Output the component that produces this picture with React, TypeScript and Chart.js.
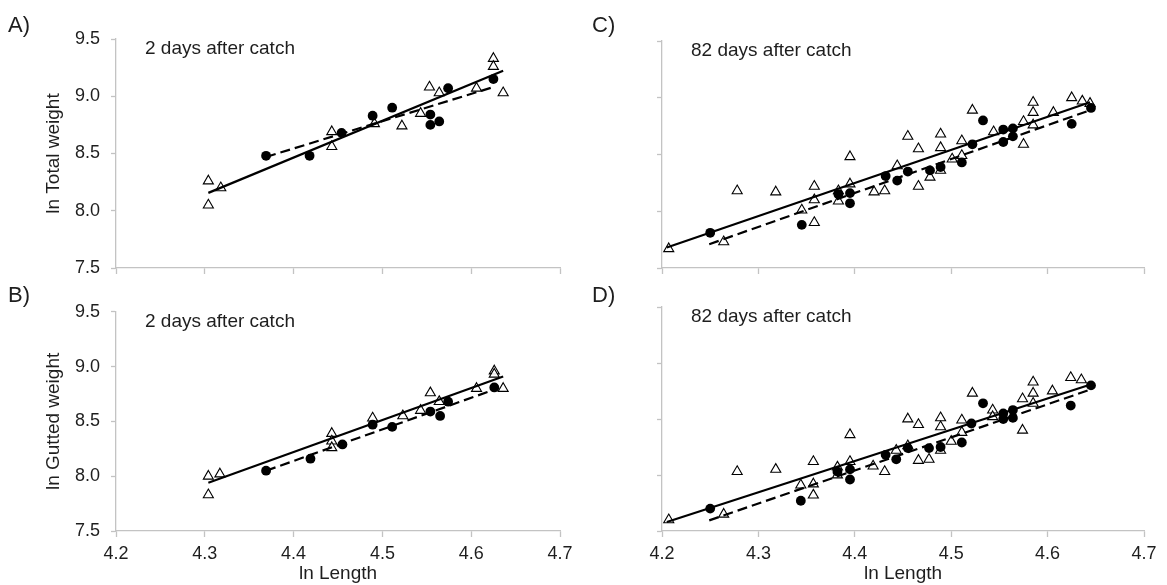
import React, { useEffect, useRef } from "react";
import { Chart, registerables } from "chart.js";

Chart.register(...registerables);

// ---------- tick values ----------
const X_TICKS = [4.2, 4.3, 4.4, 4.5, 4.6, 4.7];
const Y_TICKS = [7.5, 8.0, 8.5, 9.0, 9.5];

// ---------- Panel A: ln Total weight, 2 days after catch ----------
const triX_A = [4.304, 4.304, 4.318, 4.443, 4.443, 4.491, 4.522, 4.543, 4.553, 4.564, 4.606, 4.625, 4.625, 4.636];
const triY_A = [8.26, 8.05, 8.2, 8.69, 8.56, 8.76, 8.74, 8.85, 9.08, 9.03, 9.07, 9.33, 9.26, 9.03];
const cirX_A = [4.369, 4.418, 4.454, 4.489, 4.511, 4.554, 4.554, 4.564, 4.574, 4.625];
const cirY_A = [8.48, 8.48, 8.68, 8.83, 8.9, 8.84, 8.75, 8.78, 9.07, 9.15];
const solidX_A = [4.304, 4.636];
const solidY_A = [8.156, 9.223];
const dashX_A = [4.369, 4.625];
const dashY_A = [8.47, 9.08];

// ---------- Panel B: ln Gutted weight, 2 days after catch ----------
const triX_B = [4.304, 4.304, 4.317, 4.443, 4.443, 4.443, 4.489, 4.523, 4.543, 4.554, 4.564, 4.606, 4.626, 4.626, 4.636];
const triY_B = [8.0, 7.83, 8.02, 8.39, 8.32, 8.26, 8.53, 8.55, 8.6, 8.76, 8.68, 8.8, 8.96, 8.93, 8.8];
const cirX_B = [4.369, 4.419, 4.455, 4.489, 4.511, 4.554, 4.565, 4.574, 4.626];
const cirY_B = [8.05, 8.16, 8.29, 8.47, 8.45, 8.59, 8.55, 8.68, 8.81];
const solidX_B = [4.304, 4.636];
const solidY_B = [7.94, 8.91];
const dashX_B = [4.369, 4.626];
const dashY_B = [8.05, 8.79];

// ---------- Panel C: ln Total weight, 82 days after catch ----------
const triX_C = [4.207, 4.264, 4.278, 4.318, 4.345, 4.358, 4.358, 4.358, 4.383, 4.383, 4.395, 4.395, 4.42, 4.431, 4.444, 4.455, 4.466, 4.466, 4.478, 4.489, 4.489, 4.489, 4.501, 4.511, 4.511, 4.522, 4.544, 4.575, 4.575, 4.585, 4.585, 4.585, 4.606, 4.625, 4.636, 4.644];
const triY_C = [7.67, 7.73, 8.18, 8.17, 8.01, 8.22, 8.1, 7.9, 8.18, 8.09, 8.48, 8.24, 8.17, 8.18, 8.4, 8.66, 8.55, 8.22, 8.3, 8.68, 8.56, 8.36, 8.46, 8.62, 8.49, 8.89, 8.7, 8.79, 8.59, 8.96, 8.87, 8.76, 8.87, 9.0, 8.97, 8.95];
const cirX_C = [4.25, 4.345, 4.383, 4.395, 4.395, 4.432, 4.444, 4.455, 4.478, 4.489, 4.511, 4.522, 4.533, 4.554, 4.554, 4.564, 4.564, 4.625, 4.645];
const cirY_C = [7.81, 7.88, 8.15, 8.16, 8.07, 8.31, 8.27, 8.35, 8.36, 8.39, 8.43, 8.59, 8.8, 8.72, 8.61, 8.73, 8.66, 8.77, 8.91];
const solidX_C = [4.205, 4.644];
const solidY_C = [7.68, 8.96];
const dashX_C = [4.249, 4.644];
const dashY_C = [7.71, 8.89];

// ---------- Panel D: ln Gutted weight, 82 days after catch ----------
const triX_D = [4.207, 4.264, 4.278, 4.318, 4.344, 4.357, 4.357, 4.357, 4.382, 4.382, 4.395, 4.395, 4.419, 4.431, 4.443, 4.455, 4.455, 4.466, 4.466, 4.477, 4.489, 4.489, 4.489, 4.5, 4.511, 4.511, 4.522, 4.543, 4.543, 4.574, 4.574, 4.585, 4.585, 4.585, 4.605, 4.624, 4.635];
const triY_D = [7.6, 7.65, 8.03, 8.05, 7.91, 8.12, 7.92, 7.82, 8.07, 8.0, 8.36, 8.12, 8.08, 8.03, 8.22, 8.5, 8.26, 8.45, 8.13, 8.14, 8.51, 8.43, 8.22, 8.3, 8.49, 8.38, 8.73, 8.58, 8.52, 8.68, 8.4, 8.83, 8.73, 8.64, 8.75, 8.87, 8.85];
const cirX_D = [4.25, 4.344, 4.382, 4.395, 4.395, 4.432, 4.443, 4.455, 4.477, 4.489, 4.511, 4.521, 4.533, 4.554, 4.554, 4.564, 4.564, 4.624, 4.645];
const cirY_D = [7.7, 7.77, 8.03, 8.05, 7.96, 8.18, 8.14, 8.24, 8.24, 8.25, 8.29, 8.46, 8.64, 8.5, 8.55, 8.51, 8.58, 8.62, 8.8];
const solidX_D = [4.205, 4.647];
const solidY_D = [7.58, 8.815];
const dashX_D = [4.249, 4.647];
const dashY_D = [7.595, 8.77];

// ---------- text ----------
const NOTE_2 = "2 days after catch";
const NOTE_82 = "82 days after catch";
const Y_TITLE_TOTAL = "ln Total weight";
const Y_TITLE_GUTTED = "ln Gutted weight";
const X_TITLE = "ln Length";

const FONT = "'Liberation Sans', Arial, Helvetica, sans-serif";
const TEXT = "#1e1e1e";
const AXIS = "#c3c3c3";

const pts = (xs: number[], ys: number[]) => xs.map((x, i) => ({ x, y: ys[i] }));

type Panel = {
  letter: string;
  note: string;
  yTitle: string | null;
  xTitle: string | null;
  showXLabels: boolean;
  left: number;
  top: number;
  width: number;
  height: number;
  area: { l: number; r: number; t: number; b: number };
  tri: [number[], number[]];
  cir: [number[], number[]];
  solid: [number[], number[]];
  dash: [number[], number[]];
};

const PANELS: Panel[] = [
  {
    letter: "A)", note: NOTE_2, yTitle: Y_TITLE_TOTAL, xTitle: null, showXLabels: false,
    left: 0, top: 0, width: 580, height: 290, area: { l: 116, r: 560, t: 39, b: 268 },
    tri: [triX_A, triY_A], cir: [cirX_A, cirY_A], solid: [solidX_A, solidY_A], dash: [dashX_A, dashY_A],
  },
  {
    letter: "B)", note: NOTE_2, yTitle: Y_TITLE_GUTTED, xTitle: X_TITLE, showXLabels: true,
    left: 0, top: 290, width: 580, height: 295, area: { l: 116, r: 560, t: 16, b: 241 },
    tri: [triX_B, triY_B], cir: [cirX_B, cirY_B], solid: [solidX_B, solidY_B], dash: [dashX_B, dashY_B],
  },
  {
    letter: "C)", note: NOTE_82, yTitle: null, xTitle: null, showXLabels: false,
    left: 580, top: 0, width: 587, height: 290, area: { l: 82, r: 564, t: 41, b: 268 },
    tri: [triX_C, triY_C], cir: [cirX_C, cirY_C], solid: [solidX_C, solidY_C], dash: [dashX_C, dashY_C],
  },
  {
    letter: "D)", note: NOTE_82, yTitle: null, xTitle: X_TITLE, showXLabels: true,
    left: 580, top: 290, width: 587, height: 295, area: { l: 82, r: 564, t: 17, b: 241 },
    tri: [triX_D, triY_D], cir: [cirX_D, cirY_D], solid: [solidX_D, solidY_D], dash: [dashX_D, dashY_D],
  },
];

const notePlugin = {
  id: "panelNote",
  afterDraw(chart: any, _args: any, opts: any) {
    const { ctx, chartArea } = chart;
    ctx.save();
    ctx.font = `19px ${FONT}`;
    ctx.fillStyle = TEXT;
    ctx.textBaseline = "alphabetic";
    ctx.textAlign = "left";
    ctx.fillText(opts.text, chartArea.left + 29, chartArea.top + 15);
    ctx.restore();
  },
};

function buildConfig(p: Panel): any {
  const { area } = p;
  return {
    type: "scatter",
    data: {
      datasets: [
        {
          label: "solid",
          data: pts(p.solid[0], p.solid[1]),
          showLine: true,
          borderColor: "#000",
          borderWidth: 2.2,
          pointRadius: 0,
          pointHoverRadius: 0,
        },
        {
          label: "dashed",
          data: pts(p.dash[0], p.dash[1]),
          showLine: true,
          borderColor: "#000",
          borderWidth: 2.2,
          borderDash: [10, 5],
          pointRadius: 0,
          pointHoverRadius: 0,
        },
        {
          label: "circles",
          data: pts(p.cir[0], p.cir[1]),
          pointStyle: "circle",
          pointRadius: 4.9,
          backgroundColor: "#000",
          borderColor: "#000",
          borderWidth: 0,
        },
        {
          label: "triangles",
          data: pts(p.tri[0], p.tri[1]),
          pointStyle: "triangle",
          pointRadius: 5.8,
          backgroundColor: "rgba(255,255,255,0.9)",
          borderColor: "#000",
          borderWidth: 1.1,
        },
      ],
    },
    options: {
      animation: false,
      responsive: false,
      maintainAspectRatio: false,
      events: [],
      layout: { padding: { left: 0, top: area.t, right: p.width - area.r, bottom: 0 } },
      plugins: {
        legend: { display: false },
        tooltip: { enabled: false },
        panelNote: { text: p.note },
      },
      scales: {
        x: {
          type: "linear",
          min: X_TICKS[0],
          max: X_TICKS[X_TICKS.length - 1],
          afterBuildTicks: (s: any) => {
            s.ticks = X_TICKS.map((v) => ({ value: v }));
          },
          afterFit: (s: any) => {
            s.height = p.height - area.b;
          },
          border: { display: true, color: AXIS, width: 1.3 },
          grid: { drawOnChartArea: false, drawTicks: true, tickLength: 6, color: AXIS, tickColor: AXIS, tickWidth: 1.3 },
          ticks: {
            display: p.showXLabels,
            padding: 6,
            color: TEXT,
            font: { family: FONT, size: 18 },
            maxRotation: 0,
            callback: (v: any) => Number(v).toFixed(1),
          },
          title: {
            display: !!p.xTitle,
            text: p.xTitle || "",
            color: TEXT,
            font: { family: FONT, size: 19 },
            padding: { top: 0, bottom: 0 },
          },
        },
        y: {
          type: "linear",
          min: Y_TICKS[0],
          max: Y_TICKS[Y_TICKS.length - 1],
          afterBuildTicks: (s: any) => {
            s.ticks = Y_TICKS.map((v) => ({ value: v }));
          },
          afterFit: (s: any) => {
            s.width = area.l;
          },
          border: { display: true, color: AXIS, width: 1.3 },
          grid: { drawOnChartArea: false, drawTicks: true, tickLength: 5, color: AXIS, tickColor: AXIS, tickWidth: 1.3 },
          ticks: {
            display: !!p.yTitle,
            padding: 11,
            color: TEXT,
            font: { family: FONT, size: 18 },
            callback: (v: any) => Number(v).toFixed(1),
          },
          title: {
            display: !!p.yTitle,
            text: p.yTitle || "",
            color: TEXT,
            font: { family: FONT, size: 19 },
            padding: { top: 42, bottom: 0 },
          },
        },
      },
    },
    plugins: [notePlugin],
  };
}

export default function App() {
  const refs = useRef<(HTMLCanvasElement | null)[]>([]);

  useEffect(() => {
    const charts = PANELS.map((p, i) => {
      const c = refs.current[i]!;
      return new Chart(c, buildConfig(p));
    });
    return () => charts.forEach((ch) => ch.destroy());
  }, []);

  return (
    <div
      style={{
        position: "fixed",
        left: 0,
        top: 0,
        width: 1167,
        height: 585,
        background: "#fff",
        overflow: "hidden",
      }}
    >
      {PANELS.map((p, i) => (
        <canvas
          key={p.letter}
          ref={(el) => {
            refs.current[i] = el;
          }}
          width={p.width}
          height={p.height}
          style={{ position: "absolute", left: p.left, top: p.top, width: p.width, height: p.height }}
        />
      ))}
      {PANELS.map((p) => (
        <div
          key={"lbl" + p.letter}
          style={{
            position: "absolute",
            left: p.left === 0 ? 8 : 592,
            top: p.top === 0 ? 14 : 284,
            fontFamily: FONT,
            fontSize: 22,
            lineHeight: "22px",
            color: TEXT,
          }}
        >
          {p.letter}
        </div>
      ))}
    </div>
  );
}
